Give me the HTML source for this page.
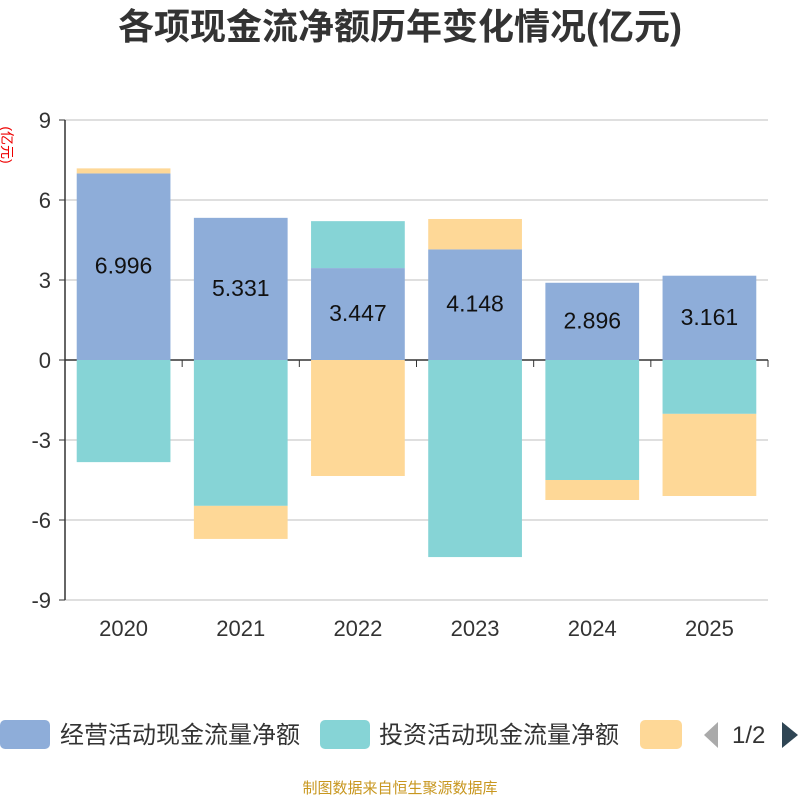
<!DOCTYPE html>
<html><head><meta charset="utf-8"><style>
body{margin:0;background:#fff;width:800px;height:800px;overflow:hidden;font-family:"Liberation Sans","Noto Sans CJK SC",sans-serif}
</style></head><body>
<svg id="c" width="800" height="800" xmlns="http://www.w3.org/2000/svg">
<text x="400" y="39" text-anchor="middle" font-size="36" font-weight="bold" fill="#333" font-family="Liberation Sans,Noto Sans CJK SC,sans-serif">各项现金流净额历年变化情况(亿元)</text>
<text x="0" y="0" transform="translate(2,145) rotate(90)" text-anchor="middle" font-size="14" fill="#e00" font-family="Liberation Sans,Noto Sans CJK SC,sans-serif">(亿元)</text>
<g id="grid"></g><g id="bars"></g><g id="axes"></g>
<g font-family="Liberation Sans,Noto Sans CJK SC,sans-serif" font-size="24" fill="#333">
<rect x="0" y="720" width="50" height="29" rx="5" fill="#8eadd9"/>
<text x="60" y="743">经营活动现金流量净额</text>
<rect x="320" y="720" width="50" height="29" rx="5" fill="#86d4d6"/>
<text x="379" y="743">投资活动现金流量净额</text>
<rect x="640" y="720" width="42" height="29" rx="5" fill="#fed897"/>
<polygon points="718,722 718,748 704,735" fill="#aaa"/>
<text x="732" y="743">1/2</text>
<polygon points="782,722 782,748 798,735" fill="#2f4554"/>
</g>
<text x="400" y="793" text-anchor="middle" font-size="15" fill="#c8971f" font-family="Liberation Sans,Noto Sans CJK SC,sans-serif">制图数据来自恒生聚源数据库</text>
</svg>
<script>
const years=["2020","2021","2022","2023","2024","2025"];
const operating=[6.996,5.331,3.447,4.148,2.896,3.161];
const investing=[-3.83,-5.47,1.76,-7.39,-4.5,-2.02];
const financing=[0.19,-1.24,-4.35,1.14,-0.75,-3.08];
const yTicks=[9,6,3,0,-3,-6,-9];
const colors=["#8eadd9","#86d4d6","#fed897"];
const NS="http://www.w3.org/2000/svg";
const L=65,R=768,T=120,B=600,ymin=-9,ymax=9;
const y=v=>T+(ymax-v)/(ymax-ymin)*(B-T);
const cw=(R-L)/years.length;
const x=i=>L+cw*i;
function mk(tag,at,parent){const e=document.createElementNS(NS,tag);for(const k in at)e.setAttribute(k,at[k]);document.getElementById(parent).appendChild(e);return e;}
yTicks.forEach(t=>{
 const g=mk('line',{x1:L,x2:R,y1:y(t),y2:y(t),stroke:t===0?'#333':'#ccc','stroke-width':t===0?1.5:1.2},'grid');
 
 
 const tk=mk('line',{x1:L-6,x2:L,y1:y(t),y2:y(t),stroke:'#333'},'axes');
 
 
 const tx=mk('text',{x:L-14,y:y(t)+8,'text-anchor':'end','font-size':22,fill:'#333','font-family':'Liberation Sans,sans-serif'},'axes');
 tx.textContent=t;
 
 
});
const ya=mk('line',{x1:L,x2:L,y1:T,y2:B,stroke:'#333','stroke-width':1.5},'axes');


for(let i=0;i<=years.length;i++){
 const t=mk('line',{x1:x(i),x2:x(i),y1:y(0),y2:y(0)+7,stroke:'#333'},'axes');
 
 
}
const series=[operating,investing,financing];
const names=['operating','investing','financing'];
years.forEach((yr,i)=>{
 let pos=0,neg=0;const bw=cw*0.8,bx=x(i)+cw*0.1;
 series.forEach((s,k)=>{
  const v=s[i];let a,b;
  if(v>=0){a=pos;b=pos+v;pos=b;}else{a=neg;b=neg+v;neg=b;}
  const r=mk('rect',{x:bx,y:Math.min(y(a),y(b)),width:bw,height:Math.abs(y(a)-y(b)),fill:colors[k]},'bars');
  
  
 });
 const lb=mk('text',{x:bx+bw/2,y:y(operating[i]/2)+7,'text-anchor':'middle','font-size':23,fill:'#111','font-family':'Liberation Sans,sans-serif'},'bars');
 lb.textContent=operating[i].toFixed(3);
 
 
 const xl=mk('text',{x:x(i)+cw/2,y:636,'text-anchor':'middle','font-size':22,fill:'#333','font-family':'Liberation Sans,sans-serif'},'axes');
 xl.textContent=yr;
 
 
});
</script>
</body></html>
